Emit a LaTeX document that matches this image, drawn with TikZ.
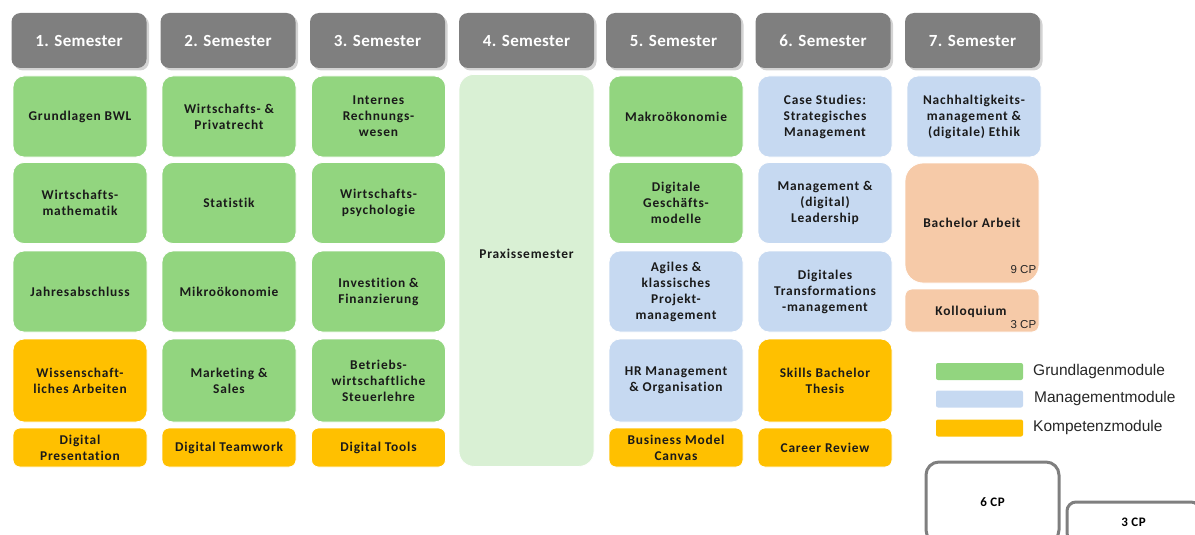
\documentclass[tikz,border=0pt]{standalone}
\usepackage{fontspec}
\setmainfont{Carlito}[RawFeature=-liga]
\newfontfamily\arialfont{Liberation Sans}
\usetikzlibrary{shadows}

\definecolor{hdrgray}{HTML}{7F7F7F}
\definecolor{grundgreen}{HTML}{92D57F}
\definecolor{mgmtblue}{HTML}{C6D9F1}
\definecolor{kompyellow}{HTML}{FFC000}
\definecolor{thesispeach}{HTML}{F6CAA8}
\definecolor{praxisgreen}{HTML}{D9F0D4}
\definecolor{modtext}{HTML}{1A1A1A}
\definecolor{legtext}{HTML}{262626}

\tikzset{
  semhdr/.style={rounded corners=9pt, fill=hdrgray, minimum width=135pt, minimum height=55pt,
    inner sep=0pt, text=white, font=\fontsize{17}{20}\selectfont\bfseries\addfontfeatures{LetterSpace=2},
    drop shadow={opacity=0.35, shadow xshift=2.5pt, shadow yshift=-2.5pt}},
  modfont/.style={font=\fontsize{13.4}{16}\selectfont\bfseries\addfontfeatures{LetterSpace=6,RawFeature=-liga}},
  modbase/.style={rounded corners=11pt, draw=white, line width=0.8pt, minimum width=134pt,
    inner sep=0pt, align=center, text=modtext, modfont},
  bigmod/.style={modbase, minimum height=81pt},
  smallmod/.style={modbase, minimum height=39pt, rounded corners=7pt},
  grund/.style={fill=grundgreen},
  mgmt/.style={fill=mgmtblue},
  komp/.style={fill=kompyellow},
  cpnote/.style={font=\arialfont\fontsize{11.5}{13}\selectfont, text=legtext, inner sep=0pt, anchor=south east},
  legbar/.style={rounded corners=2pt, minimum width=87pt, minimum height=17pt, inner sep=0pt},
  legtxt/.style={font=\arialfont\fontsize{15.5}{18}\selectfont, text=legtext, anchor=west, inner sep=0pt},
  cpbox/.style={rounded corners=13pt, draw=hdrgray, line width=3pt, fill=white, minimum width=133pt,
    inner sep=0pt, font=\fontsize{13}{16}\selectfont\bfseries\addfontfeatures{LetterSpace=4}, text=black},
}

\begin{document}
\begin{tikzpicture}[x=1pt, y=-1pt]
\path[use as bounding box] (0,0) rectangle (1195,535);
\clip (0,0) rectangle (1195,535);

% semester headers
\node[semhdr] (h1) at (79,40.5) {1. Semester};
\node[semhdr] (h2) at (228,40.5) {2. Semester};
\node[semhdr] (h3) at (377.5,40.5) {3. Semester};
\node[semhdr] (h4) at (526.5,40.5) {4. Semester};
\node[semhdr] (h5) at (673.5,40.5) {5. Semester};
\node[semhdr] (h6) at (823,40.5) {6. Semester};
\node[semhdr] (h7) at (972.5,40.5) {7. Semester};

% 1. Semester
\node[bigmod, grund] (s1a) at (80,116.5) {Grundlagen BWL};
\node[bigmod, grund] (s1b) at (80,203) {Wirtschafts-\\mathematik};
\node[bigmod, grund] (s1c) at (80,291.5) {Jahresabschluss};
\node[bigmod, komp, minimum height=83pt] (s1d) at (80,380.5) {Wissenschaft-\\liches Arbeiten};
\node[smallmod, komp] (s1e) at (80,447.5) {Digital\\Presentation};

% 2. Semester
\node[bigmod, grund] (s2a) at (229,116.5) {Wirtschafts- \&\\Privatrecht};
\node[bigmod, grund] (s2b) at (229,203) {Statistik};
\node[bigmod, grund] (s2c) at (229,291.5) {Mikroökonomie};
\node[bigmod, grund, minimum height=83pt] (s2d) at (229,380.5) {Marketing \&\\Sales};
\node[smallmod, komp] (s2e) at (229,447.5) {Digital Teamwork};

% 3. Semester
\node[bigmod, grund] (s3a) at (378.5,116.5) {Internes\\Rechnungs-\\wesen};
\node[bigmod, grund] (s3b) at (378.5,203) {Wirtschafts-\\psychologie};
\node[bigmod, grund] (s3c) at (378.5,291.5) {Investition \&\\Finanzierung};
\node[bigmod, grund, minimum height=83pt] (s3d) at (378.5,380.5) {Betriebs-\\wirtschaftliche\\Steuerlehre};
\node[smallmod, komp] (s3e) at (378.5,447.5) {Digital Tools};

% 4. Semester
\node[modbase, fill=praxisgreen, minimum width=135pt, minimum height=392pt, rounded corners=15pt,
  anchor=north] (s4) at (526.5,74) {};
\node[modfont, text=modtext] (s4t) at (526.5,254) {Praxissemester};

% 5. Semester
\node[bigmod, grund] (s5a) at (676,116.5) {Makroökonomie};
\node[bigmod, grund] (s5b) at (676,203) {Digitale\\Geschäfts-\\modelle};
\node[bigmod, mgmt] (s5c) at (676,291.5) {Agiles \&\\klassisches\\Projekt-\\management};
\node[bigmod, mgmt, minimum height=83pt] (s5d) at (676,380.5) {HR Management\\\& Organisation};
\node[smallmod, komp] (s5e) at (676,447.5) {Business Model\\Canvas};

% 6. Semester
\node[bigmod, mgmt] (s6a) at (825,116.5) {Case Studies:\\Strategisches\\Management};
\node[bigmod, mgmt] (s6b) at (825,203) {Management \&\\(digital)\\Leadership};
\node[bigmod, mgmt] (s6c) at (825,291.5) {Digitales\\Transformations\\-management};
\node[bigmod, komp, minimum height=83pt] (s6d) at (825,380.5) {Skills Bachelor\\Thesis};
\node[smallmod, komp] (s6e) at (825,447.5) {Career Review};

% 7. Semester
\node[bigmod, mgmt] (s7a) at (974,116.5) {Nachhaltigkeits-\\management \&\\(digitale) Ethik};
\node[modbase, fill=thesispeach, minimum height=120pt, rounded corners=18pt] (s7b) at (972,223) {Bachelor Arbeit};
\node[cpnote] (s7bcp) at ([xshift=-3pt, yshift=10pt]s7b.south east) {9 CP};
\node[smallmod, fill=thesispeach, minimum height=43pt] (s7c) at (972,310.5) {};
\node[modfont, text=modtext, inner sep=0pt] (s7ct) at (971,312) {Kolloquium};
\node[cpnote] (s7ccp) at ([xshift=-3pt, yshift=4pt]s7c.south east) {3 CP};

% legend
\node[legbar, fill=grundgreen] (lg1) at (979.5,371.5) {};
\node[legtxt] (lt1) at (1033,371.5) {Grundlagenmodule};
\node[legbar, fill=mgmtblue] (lg2) at (979.5,399) {};
\node[legtxt] (lt2) at (1034,398.5) {Managementmodule};
\node[legbar, fill=kompyellow] (lg3) at (979.5,428) {};
\node[legtxt] (lt3) at (1033,427) {Kompetenzmodule};

% credit point size boxes
\node[cpbox, minimum height=81pt] (cp6) at (992.5,502.5) {6 CP};
\node[cpbox, minimum height=40pt, rounded corners=9pt] (cp3) at (1133.5,522) {3 CP};
\end{tikzpicture}
\end{document}
